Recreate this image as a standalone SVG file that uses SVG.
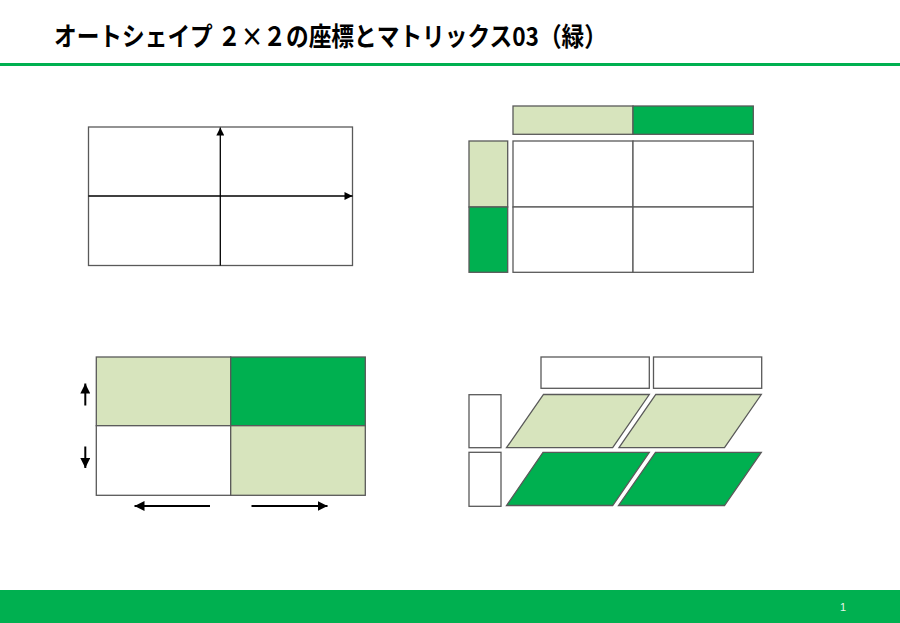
<svg xmlns="http://www.w3.org/2000/svg" width="900" height="623" viewBox="0 0 900 623">
<style>
.box{stroke:#595959;stroke-width:1.3}
.w{fill:#ffffff}
.lg{fill:#D7E4BD}
.dg{fill:#00B050}
.ax{stroke:#000;stroke-width:1.3;fill:none}
.ar{stroke:#000;stroke-width:2;fill:none}
.title{font-family:"Noto Sans CJK JP","Noto Sans",sans-serif;font-weight:bold;font-size:26px;fill:#000}
</style>
<defs>
<marker id="ah" viewBox="0 0 10 10" refX="10" refY="5" markerWidth="9" markerHeight="8" markerUnits="userSpaceOnUse" orient="auto"><path d="M0,0 L10,5 L0,10 Z" fill="#000"/></marker>
<marker id="ah2" viewBox="0 0 10 10" refX="10" refY="5" markerWidth="5" markerHeight="5" orient="auto"><path d="M0,0 L10,5 L0,10 Z" fill="#000"/></marker>
</defs>
<rect width="900" height="623" fill="#fff"/>
<g id="header">
<text class="title" x="54" y="46" textLength="553" lengthAdjust="spacingAndGlyphs">オートシェイプ ２×２の座標とマトリックス03（緑）</text>
<rect x="0" y="63" width="900" height="3" fill="#00B050"/>
</g>
<g id="footer">
<rect x="0" y="590" width="900" height="33" fill="#00B050"/>
<text x="843" y="611" font-family="Liberation Sans,sans-serif" font-size="11" fill="#e6f5ea" text-anchor="middle">1</text>
</g>
<g id="coordinate">
<rect class="box w" x="88.5" y="127" width="264" height="138.5"/>
</g>
<g id="connectors">
<line class="ax" x1="220.3" y1="265.5" x2="220.3" y2="127.5" marker-end="url(#ah)"/>
<line class="ax" x1="88.5" y1="196" x2="352.5" y2="196" marker-end="url(#ah)"/>
<line class="ar" x1="85.3" y1="405.5" x2="85.3" y2="383.5" marker-end="url(#ah2)"/>
<line class="ar" x1="85.3" y1="446.5" x2="85.3" y2="468" marker-end="url(#ah2)"/>
<line class="ar" x1="210" y1="506" x2="134.5" y2="506" marker-end="url(#ah2)"/>
<line class="ar" x1="251.5" y1="506" x2="327.5" y2="506" marker-end="url(#ah2)"/>
</g>
<g id="matrix-header">
<rect class="box lg" x="513" y="106" width="120" height="28.3"/>
<rect class="box dg" x="633" y="106" width="120.3" height="28.3"/>
<rect class="box lg" x="469" y="141" width="38.7" height="66"/>
<rect class="box dg" x="469" y="207" width="38.7" height="65.3"/>
</g>
<g id="matrix-grid">
<rect class="box w" x="513" y="141" width="120" height="66"/>
<rect class="box w" x="633" y="141" width="120.3" height="66"/>
<rect class="box w" x="513" y="207" width="120" height="65.3"/>
<rect class="box w" x="633" y="207" width="120.3" height="65.3"/>
</g>
<g id="colored-matrix">
<rect class="box lg" x="96.3" y="357" width="134.4" height="68.7"/>
<rect class="box dg" x="230.7" y="357" width="134.6" height="68.7"/>
<rect class="box w" x="96.3" y="425.7" width="134.4" height="69.6"/>
<rect class="box lg" x="230.7" y="425.7" width="134.6" height="69.6"/>
</g>
<g id="parallelogram-matrix">
<rect class="box w" x="541" y="357" width="108.3" height="31.3"/>
<rect class="box w" x="653.5" y="357" width="108.2" height="31.3"/>
<rect class="box w" x="469" y="394.7" width="32" height="53"/>
<rect class="box w" x="469" y="452.3" width="32" height="54"/>
<polygon class="box lg" points="543.5,394.5 649.3,394.5 612.7,447.7 506.5,447.7"/>
<polygon class="box lg" points="655.8,394.5 761.3,394.5 724.5,447.7 619,447.7"/>
<polygon class="box dg" points="543,452.3 649.3,452.3 612.7,505.5 506.5,505.5"/>
<polygon class="box dg" points="655.5,452.3 761.3,452.3 724.5,505.5 618.5,505.5"/>
</g>
</svg>
